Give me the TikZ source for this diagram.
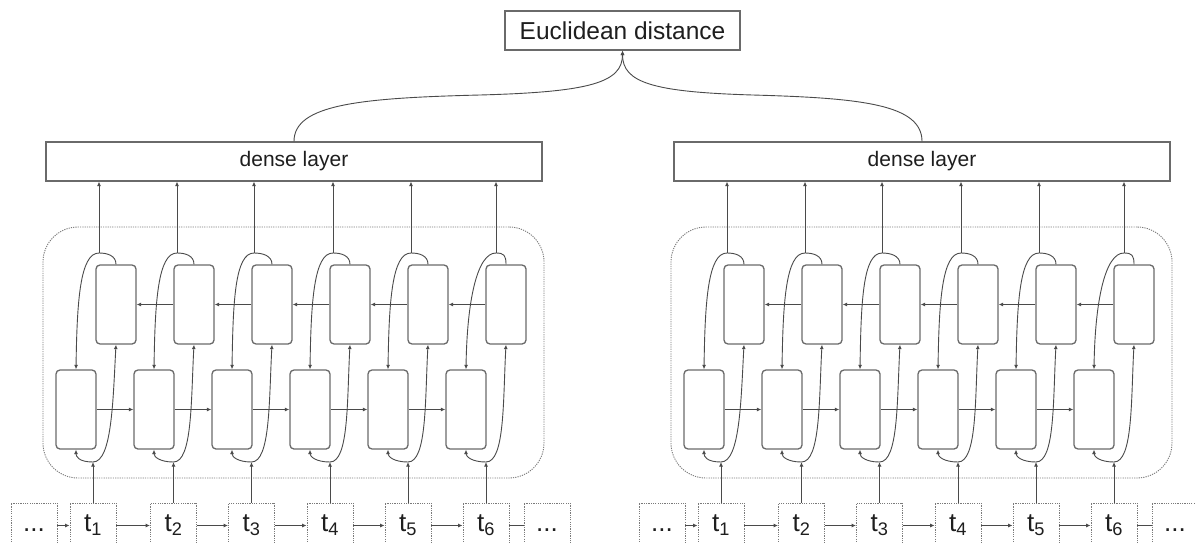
\documentclass[tikz,border=0pt]{standalone}
\usepackage{fontspec}
\setmainfont{Liberation Sans}
\usetikzlibrary{arrows.meta,calc}
\definecolor{linec}{HTML}{4A4A4A}
\definecolor{cellc}{HTML}{6A6A6A}
\definecolor{dotc}{HTML}{7A7A7A}
\definecolor{textc}{HTML}{1E1E1E}
\begin{document}
\begin{tikzpicture}[x=1pt,y=-1pt,
  cell/.style={draw=cellc,line width=1.3pt,rounded corners=4pt,minimum width=40pt,minimum height=79pt,inner sep=0pt},
  solidbox/.style={draw=cellc,line width=1.2pt,inner sep=0pt,text=textc},
  dotbox/.style={draw=dotc,line width=0.9pt,dash pattern=on 1.2pt off 1.1pt,inner sep=0pt,minimum width=46pt,minimum height=45pt,text=textc,font=\fontsize{26}{30}\selectfont},
  frame/.style={draw=dotc,line width=0.9pt,dash pattern=on 1.2pt off 1.1pt,rounded corners=35pt,inner sep=0pt,minimum width=501pt,minimum height=251pt},
  arr/.style={draw=linec,line width=0.9pt,-{Latex[length=4.5pt,width=4pt]}},
  con/.style={draw=linec,line width=0.9pt}]
\useasboundingbox (0,0) rectangle (1196,543);
\fill[white] (0,0) rectangle (1196,543);
\clip (0,0) rectangle (1196,543);

\node[solidbox,minimum width=235pt,minimum height=39pt,font=\fontsize{24.5}{28}\selectfont] (eu) at (622.5,30.5) {Euclidean distance};

\foreach \n/\dx in {A/0,B/628}{
  \node[solidbox,minimum width=496pt,minimum height=39pt,font=\fontsize{21}{24}\selectfont] (\n dense) at (294+\dx,161.5) {dense layer};
  \node[frame] (\n frame) at (293.5+\dx,352.5) {};
  \node[dotbox] (\n d0) at (34+\dx,525.5) {\vphantom{t\textsubscript{1}}...};
  \node[dotbox] (\n d7) at (547+\dx,525.5) {\vphantom{t\textsubscript{1}}...};
  \foreach \i/\c/\tx/\ko in {1/96/93/3,2/174/173.5/3,3/252/251.5/2,4/330/330/3,5/408/408/3,6/486/486/10}{
    \node[cell] (\n L\i) at (\c-20+\dx,409.5) {};
    \node[cell] (\n U\i) at (\c+20+\dx,304.5) {};
    \node[dotbox] (\n t\i) at (\tx+\dx,525.5) {t\textsubscript{\i}};
    \coordinate (\n J\i) at (\tx+\dx,462);
    \coordinate (\n K\i) at (\c+\ko+\dx,253);
    \draw[arr] (\n t\i.north) -- (\n J\i);
    \draw[arr] (\n J\i) .. controls +(-14,0) and +(0,7) .. (\n L\i.south);
    \draw[arr] (\n J\i) .. controls +(19,0) and +(-3,55) .. (\n U\i.south);
    \draw[con] (\n U\i.north) .. controls +(0,-9) and +(8,0) .. (\n K\i);
    \draw[arr] (\n K\i) .. controls +(-19,0) and +(1,-68) .. (\n L\i.north);
    \draw[arr] (\n K\i) -- (\n K\i |- \n dense.south);
  }
  \foreach \i/\j in {1/2,2/3,3/4,4/5,5/6}{
    \draw[arr] (\n L\i.east) -- (\n L\j.west);
    \draw[arr] (\n U\j.west) -- (\n U\i.east);
    \draw[arr] (\n t\i.east) -- (\n t\j.west);
  }
  \draw[arr] (\n d0.east) -- (\n t1.west);
  \draw[con] (\n t6.east) -- (\n d7.west);
}

\draw[arr] (Adense.north) .. controls +(0,-37) and +(-120,3) .. (480,95) .. controls +(110,-3) and +(0,32) .. (eu.south);
\draw[arr] (Bdense.north) .. controls +(0,-37) and +(109,3) .. (752.5,95) .. controls +(-100,-3) and +(0,32) .. (eu.south);
\end{tikzpicture}
\end{document}
